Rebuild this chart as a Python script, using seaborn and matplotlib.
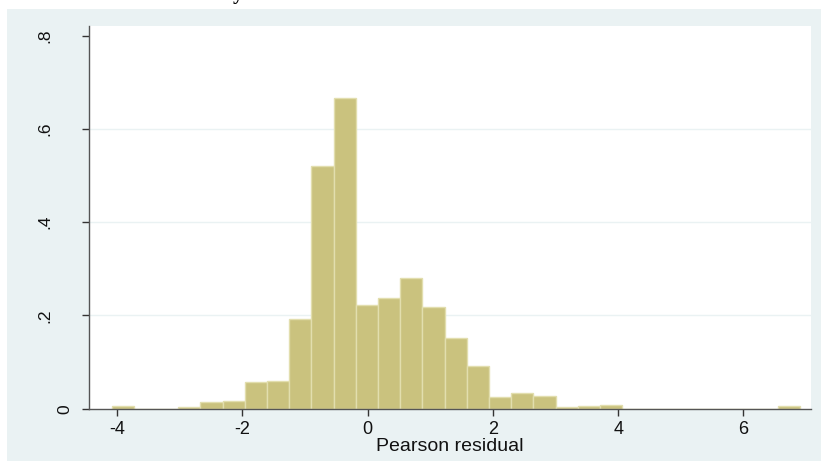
import numpy as np
import pandas as pd
import seaborn as sns
import matplotlib
matplotlib.use("Agg")
import matplotlib.pyplot as plt
from matplotlib.patches import Rectangle
from matplotlib.transforms import ScaledTranslation

# ---- data ----
bin_start = -4.09
bin_width = 0.3546
density = [0.006, 0.0, 0.0, 0.003, 0.0144, 0.0165, 0.0566, 0.060,
           0.192, 0.520, 0.665, 0.2216, 0.2373, 0.2795, 0.2173, 0.1515,
           0.0922, 0.0258, 0.033, 0.0272, 0.003, 0.0058, 0.008,
           0.0, 0.0, 0.0, 0.0, 0.0, 0.0, 0.0, 0.006]
x_ticks = [-4, -2, 0, 2, 4, 6]
x_ticklabels = ["-4", "-2", "0", "2", "4", "6"]
y_ticks = [0, 0.2, 0.4, 0.6, 0.8]
y_ticklabels = ["0", ".2", ".4", ".6", ".8"]
x_label = "Pearson residual"
title_fragment = "y"

edges = [bin_start + bin_width * i for i in range(len(density) + 1)]
centers = [(edges[i] + edges[i + 1]) / 2 for i in range(len(density))]
df = pd.DataFrame({"resid": centers, "dens": density})

sns.set_theme(style="white")
plt.rcParams["font.family"] = ["Liberation Sans", "DejaVu Sans"]

fig = plt.figure(figsize=(8.21, 4.61), dpi=100)
fig.patch.set_facecolor("white")
fig.patches.append(Rectangle((7 / 821, 0), 1 - 7 / 821, 1 - 9 / 461,
                             transform=fig.transFigure, facecolor="#EAF2F3",
                             edgecolor="none", zorder=-10))
fig.text(238 / 821, 1.0 + 1 / 461, title_fragment, ha="center", va="baseline",
         fontsize=15, fontweight="bold", color="black",
         family=["Liberation Serif", "DejaVu Serif"])

ax = fig.add_axes([89 / 821, 1 - 408.7 / 461, (811 - 89) / 821, (408.7 - 26) / 461])
ax.set_facecolor("white")

sns.histplot(data=df, x="resid", weights="dens", bins=edges, stat="count",
             color="#CAC27E", edgecolor="#E2DEAE", linewidth=1.0, alpha=1.0, ax=ax)

ax.set_xlim(-4.45, 7.08)
ax.set_ylim(0, 0.8204)
ax.set_xticks(x_ticks)
ax.set_xticklabels(x_ticklabels)
ax.set_yticks(y_ticks)
ax.set_yticklabels(y_ticklabels)
ax.set_xlabel(x_label, fontsize=14, color="#111111", labelpad=0)
ax.set_ylabel("")

ax.set_axisbelow(True)
ax.yaxis.grid(True, color="#EAF2F3", linewidth=1.0)
gl = ax.yaxis.get_gridlines()
gl[0].set_visible(False)
gl[-1].set_visible(False)

for s in ["top", "right"]:
    ax.spines[s].set_visible(False)
for s in ["left", "bottom"]:
    ax.spines[s].set_color("#555555")
    ax.spines[s].set_linewidth(1.0)

ax.tick_params(axis="both", which="major", direction="out", length=5, width=1,
               color="#333333", labelcolor="#111111",
               bottom=True, left=True)
ax.tick_params(axis="x", pad=4, labelsize=13)
ax.tick_params(axis="y", pad=27, labelsize=12.5)
for lab in ax.get_yticklabels():
    lab.set_rotation(90)
    lab.set_va("center")
    lab.set_ha("center")
    if lab.get_text() == "0":
        lab.set_transform(lab.get_transform() +
                          ScaledTranslation(20 / 100, 0, fig.dpi_scale_trans))

fig.savefig("out.png", dpi=100, facecolor=fig.get_facecolor())
